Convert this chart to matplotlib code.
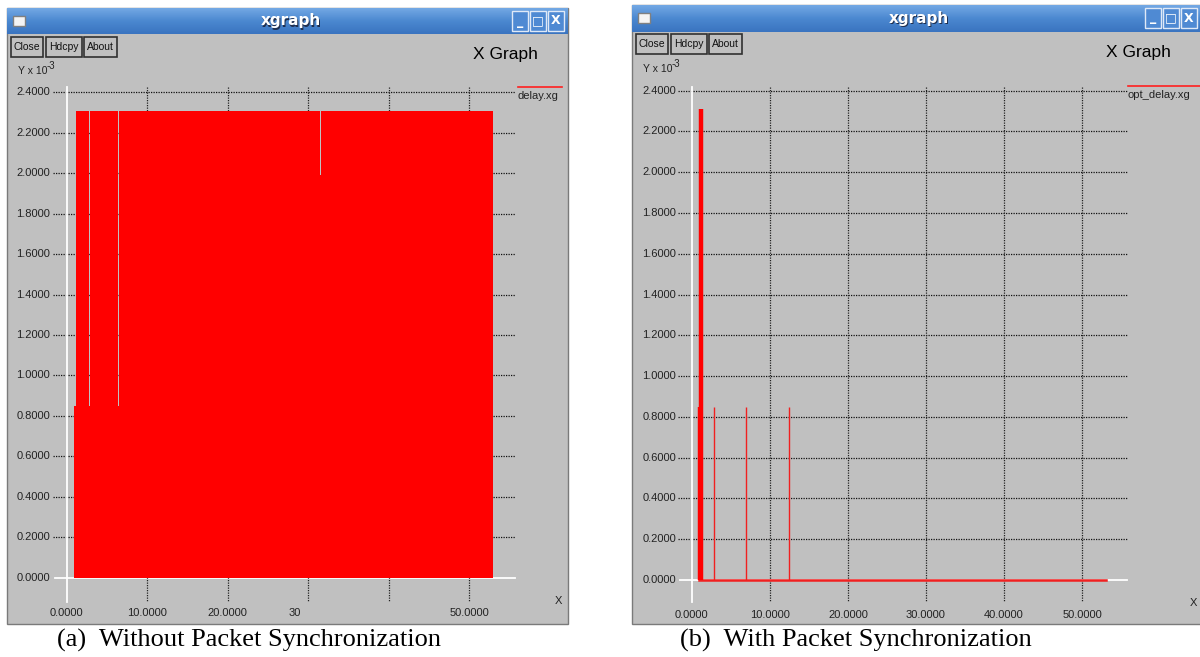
import matplotlib
matplotlib.use("Agg")
import numpy as np
import matplotlib.pyplot as plt
from matplotlib.patches import Rectangle

W, H = 1200, 657

# ---- data (delay, Y in units of 1e-3) ----
x_ticks = [0, 10, 20, 30, 40, 50]
x_labels_a = ["0.0000", "10.0000", "20.0000", "", "", "50.0000"]
x_labels_b = ["0.0000", "10.0000", "20.0000", "30.0000", "40.0000", "50.0000"]
y_ticks = [0.0, 0.2, 0.4, 0.6, 0.8, 1.0, 1.2, 1.4, 1.6, 1.8, 2.0, 2.2, 2.4]
y_labels = ["%.4f" % v for v in y_ticks]

# (a) delay.xg : envelope of the dense delay trace (step, post)
delay_x = [0.91, 1.16, 2.80, 2.93, 6.35, 6.48, 31.45, 31.58, 52.95]
delay_y = [0.85, 2.31, 0.85, 2.31, 0.85, 2.31, 1.99, 2.31, 2.31]

# (b) opt_delay.xg : isolated delay spikes on a zero baseline
opt_x = [1.08, 1.23, 2.89, 6.99, 12.5]
opt_y = [0.85, 2.31, 0.85, 0.85, 0.85]
opt_base_x = [0.94, 53.1]
opt_base_y = [0.0, 0.0]

GRAY = "#c0c0c0"
UI_FONT = ["Liberation Sans Narrow", "Liberation Sans", "DejaVu Sans"]

fig = plt.figure(figsize=(W / 100, H / 100), dpi=100)
fig.patch.set_facecolor("white")

# background axes in pixel coordinates for the window chrome
bg = fig.add_axes([0, 0, 1, 1])
bg.set_xlim(0, W)
bg.set_ylim(H, 0)
bg.axis("off")


def window(x0, y0, x1, y1, title_h, ctrl_x):
    bg.add_patch(Rectangle((x0, y0), x1 - x0, y1 - y0, facecolor=GRAY,
                           edgecolor="#7a7a7a", lw=1))
    grad = np.linspace(0, 1, 50).reshape(-1, 1)
    bg.imshow(grad, cmap=matplotlib.colors.LinearSegmentedColormap.from_list(
        "tb", ["#73a8e4", "#4b88d0", "#3a74c0"]),
        extent=(x0, x1, y0 + title_h, y0), aspect="auto", zorder=1)
    cx = (x0 + min(x1, W)) / 2 + 3
    bg.text(cx + 1, y0 + title_h / 2 + 1, "xgraph", color="#203050", fontsize=11,
            fontweight="bold", ha="center", va="center", family="DejaVu Sans", zorder=2)
    bg.text(cx, y0 + title_h / 2, "xgraph", color="white", fontsize=11,
            fontweight="bold", ha="center", va="center", family="DejaVu Sans", zorder=3)
    # window icon
    bg.add_patch(Rectangle((x0 + 6, y0 + 8), 12, 10, facecolor="#f4f4f4",
                           edgecolor="#808080", lw=1, zorder=3))
    # min / max / close
    for i, glyph in enumerate(["_", "\u25a1", "X"]):
        bx = ctrl_x + i * 18
        bg.add_patch(Rectangle((bx, y0 + 3), 16, 20, facecolor="#4f8ad3",
                               edgecolor="#dfe9f7", lw=1, zorder=3))
        bg.text(bx + 8, y0 + 13, glyph, color="white", fontsize=9, fontweight="bold",
                ha="center", va="center", family="DejaVu Sans", zorder=4)


def buttons(x0, y0):
    specs = [("Close", 32), ("Hdcpy", 36), ("About", 33)]
    x = x0
    for lab, w in specs:
        bg.add_patch(Rectangle((x, y0), w, 20, facecolor=GRAY, edgecolor="#303030",
                               lw=1.2, zorder=3))
        bg.text(x + w / 2, y0 + 10, lab, fontsize=7.5, ha="center", va="center",
                family=UI_FONT, color="#111111", zorder=4)
        x += w + 2.5


window(7, 8, 568, 624, 26, 512)
window(632, 5, 1206, 624, 27, 1145)
buttons(11, 37)
buttons(636, 34)

bg.text(505, 54, "X Graph", fontsize=12.5, ha="center", va="center",
        family=["Liberation Sans", "DejaVu Sans"])
bg.text(1138, 52, "X Graph", fontsize=12.5, ha="center", va="center",
        family=["Liberation Sans", "DejaVu Sans"])
for xl, yl in [(18, 71), (643, 69)]:
    bg.text(xl, yl, "Y x 10", fontsize=7.5, ha="left", va="center",
            family=UI_FONT, color="#222222")
    bg.text(xl + 29, yl - 5, "-3", fontsize=7, ha="left", va="center",
            family=UI_FONT, color="#222222")

bg.text(57, 640, "(a)  Without Packet Synchronization", fontsize=19, ha="left",
        va="center", family=["Liberation Serif", "DejaVu Serif"])
bg.text(680, 640, "(b)  With Packet Synchronization", fontsize=19, ha="left",
        va="center", family=["Liberation Serif", "DejaVu Serif"])


def panel(rect, x0, xs, y0, ys):
    l, t, r, b = rect
    ax = fig.add_axes([l / W, 1 - b / H, (r - l) / W, (b - t) / H])
    ax.set_xlim((l - x0) / xs, (r - x0) / xs)
    ax.set_ylim((y0 - b) / ys, (y0 - t) / ys)
    ax.axis("off")
    ax.patch.set_alpha(0)
    px = lambda p: (p - x0) / xs
    py = lambda p: (y0 - p) / ys
    return ax, px, py


def frame(ax, px, py, g_left, g_right, lab_right, xlab_y, x_labels, legend, xpos):
    dots = (0, (1, 1))
    for v, lab in zip(y_ticks, y_labels):
        if v > 0:
            ax.plot([px(g_left), px(g_right)], [v, v], color="#111111", lw=0.9,
                    ls=dots, zorder=1)
        ax.text(px(lab_right), v, lab, fontsize=8, ha="right", va="center",
                family=UI_FONT, color="#222222")
    ax.plot([px(g_left + 2), px(g_right)], [0, 0], color="white", lw=1.3, zorder=1)
    for v, lab in zip(x_ticks, x_labels):
        if v == 0:
            ax.plot([0, 0], [py(87), py(602)], color="white", lw=1.3, zorder=1)
        else:
            ax.plot([v, v], [py(87), py(602)], color="#222222", lw=0.9, ls=dots, zorder=1)
        if lab:
            ax.text(v, py(xlab_y), lab, fontsize=8, ha="center", va="center",
                    family=UI_FONT, color="#222222")
    ax.text(px(xpos[0]), py(xpos[1]), "X", fontsize=8, ha="center", va="center",
            family=UI_FONT, color="#222222")
    lx0, lx1, ly, name = legend
    ax.plot([px(lx0), px(lx1)], [py(ly), py(ly)], color="#ff2020", lw=1.2, clip_on=False)
    ax.text(px(lx0 - 1), py(ly + 9), name, fontsize=8, ha="left", va="center",
            family=UI_FONT, color="#222222")


# (a) Without Packet Synchronization
axa, pxa, pya = panel((12, 80, 566, 622), 66.7, 8.05, 577.7, 202.25)
frame(axa, pxa, pya, 53, 515, 50, 613, x_labels_a, (518, 562, 87, "delay.xg"), (558, 601))
axa.fill_between(delay_x, 0, delay_y, step="post", color="#ff0000", lw=0, zorder=3)
# the "30" label is overdrawn in the original window: only "3(" is visible
t30 = axa.text(30, pya(613), "30.0000", fontsize=8, ha="center", va="center",
               family=UI_FONT, color="#222222", clip_on=True)
clip = Rectangle((0, 0), 300, H, transform=bg.transData, visible=False)
bg.add_patch(clip)
t30.set_clip_path(clip)

# (b) With Packet Synchronization
axb, pxb, pyb = panel((637, 80, 1199, 622), 691.7, 7.81, 580.0, 203.9)
frame(axb, pxb, pyb, 678, 1127, 676, 615, x_labels_b, (1128, 1200, 86, "opt_delay.xg"), (1193, 603))
axb.plot(opt_base_x, opt_base_y, color="#f02020", lw=1.8, zorder=3)
axb.vlines(opt_x[:2], 0, opt_y[:2], color="#ff0000", lw=3.2, zorder=3)
axb.vlines(opt_x[2:], 0, opt_y[2:], color="#f02020", lw=1.0, zorder=3)

fig.savefig("out.png", dpi=100, facecolor=fig.get_facecolor())
